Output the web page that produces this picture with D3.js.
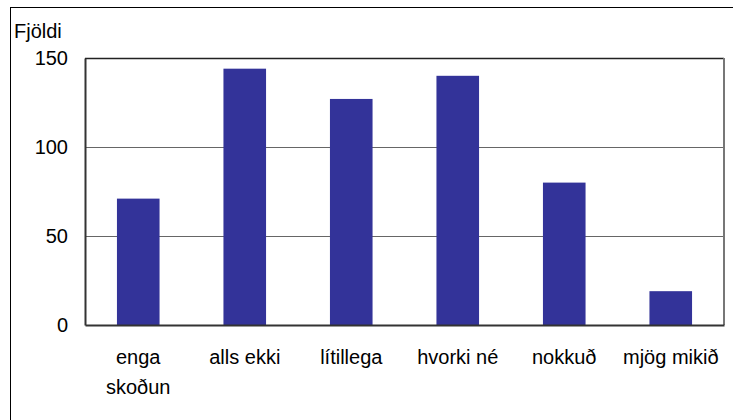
<!DOCTYPE html>
<html><head><meta charset="utf-8">
<script src="https://cdn.jsdelivr.net/npm/d3@7"></script>
<style>body{margin:0;background:#fff}svg{display:block}text{font-family:"Liberation Sans",Arial,sans-serif;fill:#000}</style>
</head><body><svg id="c" width="733" height="420"></svg>
<script>
const categories = [["enga","skoðun"],["alls ekki"],["lítillega"],["hvorki né"],["nokkuð"],["mjög mikið"]];
const values = [71, 144, 127, 140, 80, 19];
const yTicks = [0, 50, 100, 150];
const yTitle = "Fjöldi";

const svg = d3.select("#c");
const m = {l:85, r:724, t:58, b:325};
svg.append("rect").attr("x",10.5).attr("y",7.5).attr("width",740).attr("height",430)
  .attr("fill","none").attr("stroke","#000").attr("stroke-width",1);

const x = d3.scaleBand().domain(d3.range(values.length)).range([m.l, m.r]).paddingInner(0.6).paddingOuter(0.3);
const y = d3.scaleLinear().domain([0,150]).range([m.b, m.t]);

// gridlines
svg.append("g").selectAll("line").data(yTicks.filter(d=>d>0 && d<150)).join("line")
  .attr("x1",m.l).attr("x2",m.r).attr("y1",d=>Math.round(y(d))+0.5).attr("y2",d=>Math.round(y(d))+0.5)
  .attr("stroke","#666").attr("stroke-width",1);

// bars
svg.append("g").selectAll("rect").data(values).join("rect")
  .attr("x",(d,i)=>x(i)).attr("width",x.bandwidth())
  .attr("y",d=>y(d)).attr("height",d=>y(0)-y(d)).attr("fill","#333399");

// frame
svg.append("line").attr("x1",m.l).attr("x2",m.r).attr("y1",m.t+0.5).attr("y2",m.t+0.5).attr("stroke","#222").attr("stroke-width",1.5);
svg.append("line").attr("x1",m.r).attr("x2",m.r).attr("y1",m.t).attr("y2",m.b).attr("stroke","#777").attr("stroke-width",2);

// y axis
const ya = d3.axisLeft(y).tickValues(yTicks).tickSize(0).tickPadding(17);
const gy = svg.append("g").attr("transform",`translate(${m.l},0)`).call(ya);
gy.select(".domain").attr("stroke","#333").attr("stroke-width",2);
gy.selectAll("text").attr("font-size",20).attr("font-family","Liberation Sans, Arial, sans-serif").attr("fill","#000");

// x axis
const xa = d3.axisBottom(x).tickSize(0).tickFormat("");
const gx = svg.append("g").attr("transform",`translate(0,${m.b})`).call(xa);
gx.select(".domain").attr("stroke","#333").attr("stroke-width",2);
gx.selectAll(".tick").each(function(d){
  const t = d3.select(this).append("text").attr("text-anchor","middle").attr("font-size",20).attr("fill","#000");
  categories[d].forEach((s,k)=>t.append("tspan").attr("x",0).attr("y",39+k*30).text(s));
});

svg.append("text").attr("x",14).attr("y",38).attr("font-size",20).text(yTitle);
</script></body></html>
